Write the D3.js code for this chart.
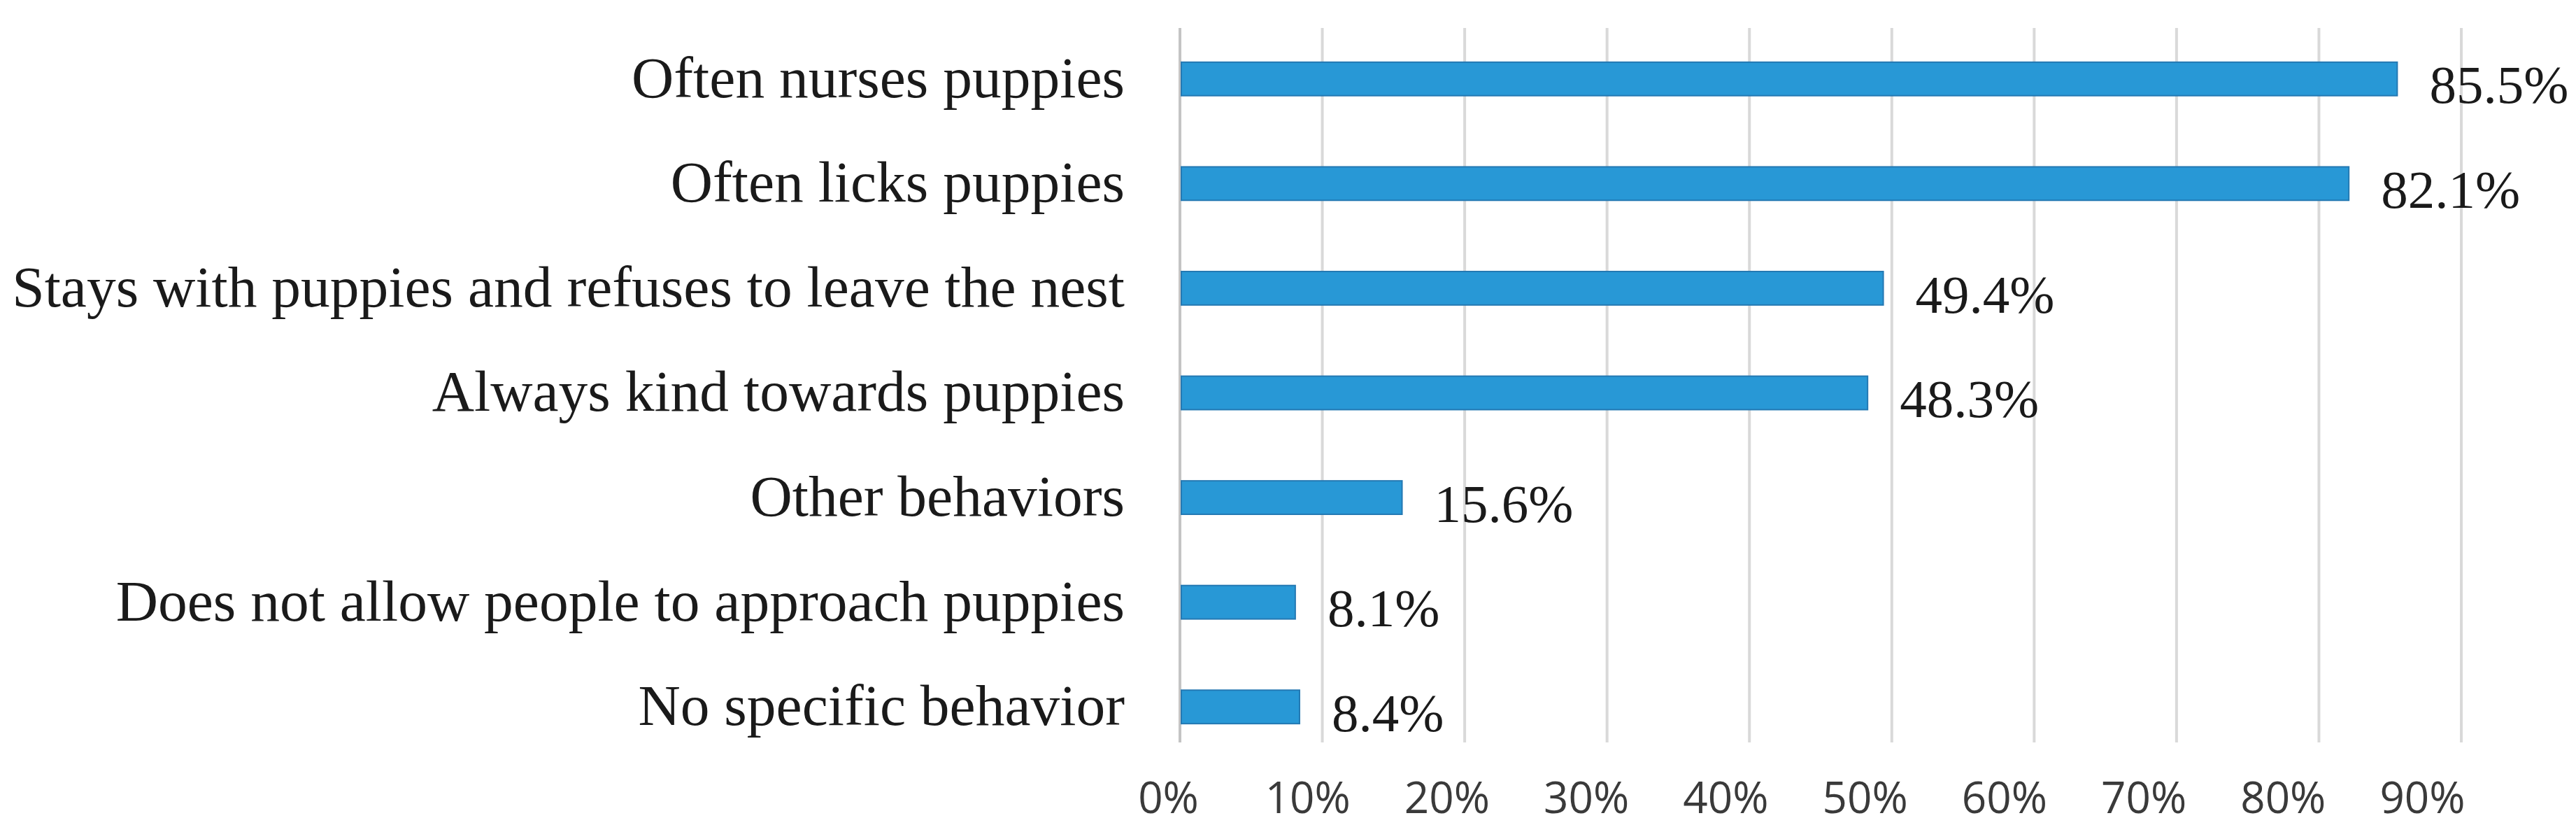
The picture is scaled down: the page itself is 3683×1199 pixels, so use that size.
<!DOCTYPE html>
<html>
<head>
<meta charset="utf-8">
<script src="https://cdn.jsdelivr.net/npm/d3@7"></script>
<style>
  html, body { margin: 0; padding: 0; background: #ffffff; }
  svg { display: block; }
</style>
</head>
<body>
<svg id="chart" width="3683" height="1199"></svg>
<script>
// ---- data ----
const categories = [
  "Often nurses puppies",
  "Often licks puppies",
  "Stays with puppies and refuses to leave the nest",
  "Always kind towards puppies",
  "Other behaviors",
  "Does not allow people to approach puppies",
  "No specific behavior"
];
const values = [0.855, 0.821, 0.494, 0.483, 0.156, 0.081, 0.084];
const valueLabels = ["85.5%", "82.1%", "49.4%", "48.3%", "15.6%", "8.1%", "8.4%"];
const tickValues = [0, 0.1, 0.2, 0.3, 0.4, 0.5, 0.6, 0.7, 0.8, 0.9];

// ---- layout ----
const W = 3683, H = 1199;
const svg = d3.select("#chart");

const x = d3.scaleLinear().domain([0, 0.9]).range([1687, 3519]);
// tick labels sit on a slightly narrower, left-shifted track in the original
const xLab = d3.scaleLinear().domain([0, 0.9]).range([1670, 3463]);
const y = d3.scaleBand().domain(categories).range([38, 1085]).paddingInner(0.68).paddingOuter(0.34);

const gridTop = 40, gridBottom = 1061;

// gridlines
svg.append("g").selectAll("line").data(tickValues).join("line")
  .attr("x1", d => x(d)).attr("x2", d => x(d))
  .attr("y1", gridTop).attr("y2", gridBottom)
  .attr("stroke", d => d === 0 ? "#c4c4c4" : "#d9d9d9")
  .attr("stroke-width", 4);

// bars
svg.append("g").selectAll("rect").data(values).join("rect")
  .attr("x", x(0) + 2)
  .attr("y", (d, i) => y(categories[i]))
  .attr("width", d => x(d) - x(0) - 2)
  .attr("height", y.bandwidth())
  .attr("fill", "#2898d6")
  .attr("stroke", "#2479b3")
  .attr("stroke-width", 2);

// value labels
svg.append("g").selectAll("text").data(values).join("text")
  .attr("x", d => x(d) + 46)
  .attr("y", (d, i) => y(categories[i]) + y.bandwidth() / 2)
  .attr("dy", "0.45em")
  .attr("font-family", "'Liberation Serif', 'Times New Roman', serif")
  .attr("font-size", 77)
  .attr("fill", "#1a1a1a")
  .text((d, i) => valueLabels[i]);

// category labels
const yAxis = d3.axisLeft(y).tickSize(0).tickPadding(0);
const gy = svg.append("g").attr("transform", `translate(${1608},0)`).call(yAxis);
gy.select(".domain").remove();
gy.selectAll("text")
  .attr("font-family", "'Liberation Serif', 'Times New Roman', serif")
  .attr("font-size", 83.5)
  .attr("fill", "#1a1a1a")
  .attr("dy", "0.31em");

// x tick labels
const xAxis = d3.axisBottom(xLab).tickValues(tickValues).tickFormat(d3.format(".0%")).tickSize(0).tickPadding(0);
const gx = svg.append("g").attr("transform", `translate(0,${1162})`).call(xAxis);
gx.select(".domain").remove();
gx.selectAll("text")
  .attr("font-family", "'Open Sans', 'Noto Sans', sans-serif")
  .attr("font-size", 62)
  .attr("fill", "#3a3a3a")
  .attr("dy", 0)
  .attr("y", 0);
</script>
</body>
</html>
